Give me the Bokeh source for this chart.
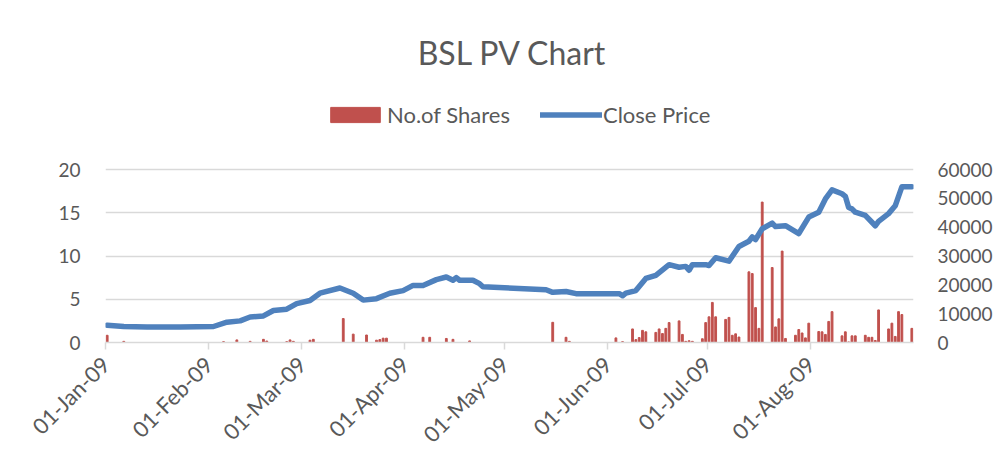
import pandas as pd
from math import pi
from bokeh.plotting import figure
from bokeh.models import (Range1d, LinearAxis, FixedTicker, DatetimeTickFormatter,
                          MonthsTicker, Legend, LegendItem, Label, ColumnDataSource,
                          NumeralTickFormatter)
from bokeh.embed import file_html
from bokeh.resources import INLINE

TITLE = "BSL PV Chart"

share_dates = [
    "2009-01-01", "2009-01-06", "2009-02-05", "2009-02-09", "2009-02-13", "2009-02-17",
    "2009-02-18", "2009-02-24", "2009-02-25", "2009-02-26", "2009-03-03", "2009-03-04",
    "2009-03-13", "2009-03-16", "2009-03-20", "2009-03-23", "2009-03-24", "2009-03-25",
    "2009-03-26", "2009-04-06", "2009-04-08", "2009-04-13", "2009-04-15", "2009-04-20",
    "2009-05-15", "2009-05-19", "2009-05-20", "2009-06-03", "2009-06-05", "2009-06-08",
    "2009-06-09", "2009-06-10", "2009-06-11", "2009-06-12", "2009-06-15", "2009-06-16",
    "2009-06-17", "2009-06-18", "2009-06-19", "2009-06-22", "2009-06-23", "2009-06-24",
    "2009-06-25", "2009-06-26", "2009-06-29", "2009-06-30", "2009-07-01", "2009-07-02",
    "2009-07-03", "2009-07-06", "2009-07-07", "2009-07-08", "2009-07-09", "2009-07-10",
    "2009-07-13", "2009-07-14", "2009-07-15", "2009-07-16", "2009-07-17", "2009-07-20",
    "2009-07-21", "2009-07-22", "2009-07-23", "2009-07-24", "2009-07-27", "2009-07-28",
    "2009-07-29", "2009-07-30", "2009-07-31", "2009-08-03", "2009-08-04", "2009-08-05",
    "2009-08-06", "2009-08-07", "2009-08-10", "2009-08-11", "2009-08-12", "2009-08-13",
    "2009-08-14", "2009-08-17", "2009-08-18", "2009-08-19", "2009-08-20", "2009-08-21",
    "2009-08-24", "2009-08-25", "2009-08-26", "2009-08-27", "2009-08-28", "2009-08-31",
]
share_volumes = [
    2500, 400, 300, 900, 400, 1100,
    500, 300, 900, 400, 800, 1100,
    8300, 2900, 2600, 800, 1000, 1500,
    1500, 1800, 1800, 1400, 1100, 550,
    7000, 1800, 400, 1600, 300, 4700,
    1000, 1700, 4200, 3700, 3500, 4700,
    3100, 4900, 6900, 7500, 2800, 400,
    600, 400, 1300, 6900, 8900, 13900,
    8900, 8000, 8700, 2500, 3000, 1900,
    24500, 23900, 12100, 4900, 48700, 26000,
    5400, 8200, 31700, 1400, 2500, 4500,
    3300, 1600, 6700, 3800, 3700, 2800,
    7300, 10700, 2300, 3700, 200, 2300,
    2300, 2500, 1800, 1800, 700, 11300,
    4700, 6700, 2100, 10700, 9700, 4900,
]

price_dates = [
    "2009-01-01", "2009-01-06", "2009-01-13", "2009-01-23", "2009-02-02", "2009-02-06",
    "2009-02-10", "2009-02-13", "2009-02-17", "2009-02-20", "2009-02-24", "2009-02-27",
    "2009-03-03", "2009-03-06", "2009-03-12", "2009-03-16", "2009-03-19", "2009-03-23",
    "2009-03-27", "2009-03-31", "2009-04-03", "2009-04-06", "2009-04-10", "2009-04-13",
    "2009-04-15", "2009-04-16", "2009-04-17", "2009-04-21", "2009-04-23", "2009-04-24",
    "2009-05-13", "2009-05-15", "2009-05-19", "2009-05-22", "2009-06-04", "2009-06-05",
    "2009-06-06", "2009-06-09", "2009-06-12", "2009-06-15", "2009-06-19", "2009-06-22",
    "2009-06-24", "2009-06-25", "2009-06-26", "2009-06-30", "2009-07-01", "2009-07-03",
    "2009-07-07", "2009-07-10", "2009-07-13", "2009-07-14", "2009-07-15", "2009-07-17",
    "2009-07-20", "2009-07-21", "2009-07-24", "2009-07-28", "2009-07-31", "2009-08-03",
    "2009-08-05", "2009-08-07", "2009-08-10", "2009-08-11", "2009-08-12", "2009-08-13",
    "2009-08-14", "2009-08-17", "2009-08-19", "2009-08-20", "2009-08-21", "2009-08-24",
    "2009-08-26", "2009-08-28", "2009-08-31",
]
close_prices = [
    2.0, 1.85, 1.8, 1.8, 1.85, 2.35,
    2.5, 2.95, 3.07, 3.7, 3.85, 4.5,
    4.85, 5.7, 6.3, 5.7, 4.9, 5.07,
    5.7, 6.0, 6.6, 6.6, 7.27, 7.57,
    7.2, 7.5, 7.2, 7.2, 6.8, 6.45,
    6.1, 5.8, 5.9, 5.65, 5.65, 5.4,
    5.7, 6.0, 7.4, 7.77, 9.0, 8.7,
    8.8, 8.35, 9.0, 9.0, 8.9, 9.8,
    9.4, 11.1, 11.7, 12.2, 11.9, 13.15,
    13.8, 13.4, 13.5, 12.6, 14.5, 15.06,
    16.6, 17.65, 17.2, 16.9, 15.6, 15.45,
    15.06, 14.7, 13.9, 13.5, 14.0, 14.9,
    15.8, 18.0, 18.0,
]

left_ticks = [0, 5, 10, 15, 20]
right_ticks = [0, 10000, 20000, 30000, 40000, 50000, 60000]

FONT = "Lato"
TXT = "#595959"
GRID = "#d9d9d9"

half_day = pd.Timedelta(hours=12)
bar_src = ColumnDataSource(dict(x=pd.to_datetime(share_dates) + half_day, top=share_volumes))
line_src = ColumnDataSource(dict(x=pd.to_datetime(price_dates) + half_day, y=close_prices))

frame_h = 334.0
px_per_20 = 173.0
y_top = 20 * frame_h / px_per_20
r_top = 60000 * frame_h / px_per_20

p = figure(width=995, height=462, x_axis_type="datetime", output_backend="svg",
           toolbar_location=None,
           x_range=Range1d(pd.Timestamp("2009-01-01"), pd.Timestamp("2009-08-31 23:59")),
           y_range=Range1d(0, y_top),
           min_border_left=105, min_border_right=82, min_border_top=8, min_border_bottom=120)
p.extra_y_ranges = {"shares": Range1d(0, r_top)}
p.outline_line_color = None
p.background_fill_color = "white"
p.border_fill_color = "white"

bars = p.vbar(x="x", top="top", width=pd.Timedelta(hours=13).total_seconds() * 1000,
              source=bar_src, y_range_name="shares", color="#C0504D")
line = p.line(x="x", y="y", source=line_src, line_color="#4F81BD", line_width=5.5,
              line_join="round", line_cap="round")

# x axis
xa = p.xaxis[0]
xa.ticker = MonthsTicker(months=list(range(12)))
fmt = "%d-%b-%y"
xa.formatter = DatetimeTickFormatter(years=fmt, months=fmt, days=fmt, hours=fmt,
                                     minutes=fmt, seconds=fmt, milliseconds=fmt,
                                     microseconds=fmt, hourmin=fmt, minsec=fmt)
xa.axis_line_color = GRID
xa.axis_line_width = 1.5
xa.major_tick_line_color = GRID
xa.major_tick_line_width = 1.5
xa.major_tick_out = 7
xa.major_tick_in = 0
xa.minor_tick_line_color = None
xa.major_label_orientation = pi / 4
xa.major_label_text_font = FONT
xa.major_label_text_font_size = "22px"
xa.major_label_text_color = TXT
xa.major_label_standoff = 11

# left axis
ya = p.yaxis[0]
ya.ticker = FixedTicker(ticks=left_ticks)
ya.axis_line_color = None
ya.major_tick_line_color = None
ya.minor_tick_line_color = None
ya.major_tick_out = 0
ya.major_label_standoff = 25
ya.major_label_text_font = FONT
ya.major_label_text_font_size = "19px"
ya.major_label_text_color = TXT

# right axis
ra = LinearAxis(y_range_name="shares", ticker=FixedTicker(ticks=right_ticks),
                formatter=NumeralTickFormatter(format="0"))
ra.axis_line_color = None
ra.major_tick_line_color = None
ra.minor_tick_line_color = None
ra.major_tick_out = 0
ra.major_label_standoff = 24
ra.major_label_text_font = FONT
ra.major_label_text_font_size = "19px"
ra.major_label_text_color = TXT
p.add_layout(ra, "right")

p.xgrid.grid_line_color = None
p.ygrid.ticker = FixedTicker(ticks=left_ticks)
p.ygrid.grid_line_color = GRID
p.ygrid.grid_line_width = 1.5

legend = Legend(items=[LegendItem(label="No.of Shares", renderers=[bars]),
                       LegendItem(label="Close Price", renderers=[line])],
                location=(219, 214), orientation="horizontal",
                glyph_width=62, glyph_height=19, label_standoff=1, spacing=30,
                padding=0, margin=0, border_line_color=None, background_fill_alpha=0,
                label_text_font=FONT, label_text_font_size="22px",
                label_text_color=TXT, label_height=22)
p.add_layout(legend)

title = Label(x=407, y=290, x_units="screen", y_units="screen", text=TITLE,
              text_align="center", text_baseline="middle", text_font=FONT,
              text_font_size="32px", text_color=TXT)
p.add_layout(title)

open("out.html", "w").write(file_html(p, INLINE))
